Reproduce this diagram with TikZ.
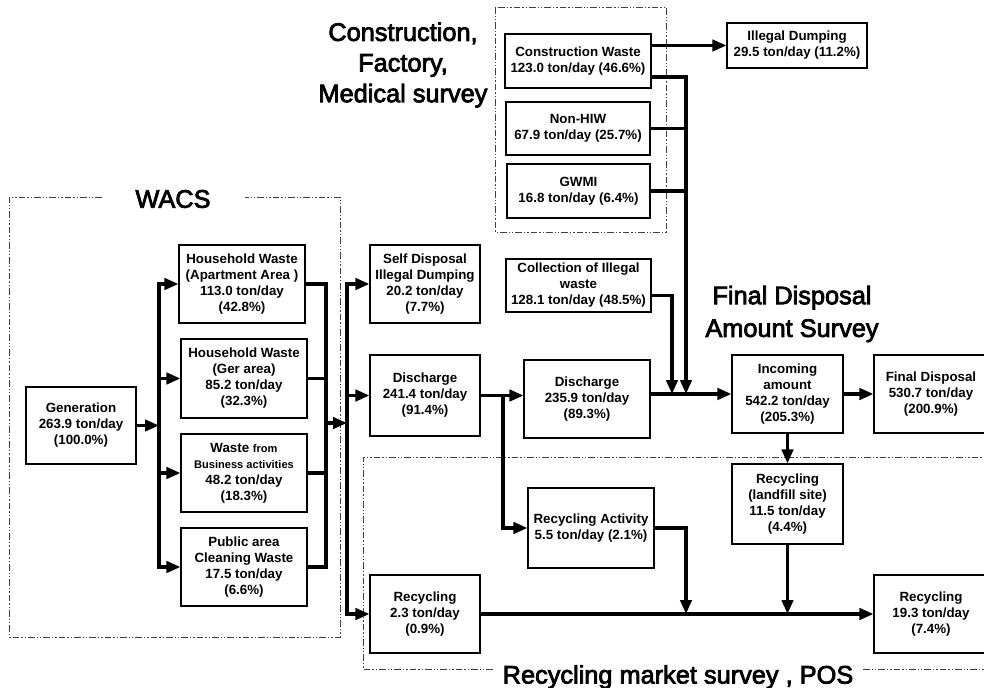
\documentclass[tikz,border=0pt]{standalone}
\usepackage{fontspec}
\setmainfont{Liberation Sans}
\newfontfamily\headfont[FakeBold=3]{Liberation Sans}
\usetikzlibrary{arrows.meta}
% box from its corners (x1,y1) (x2,y2), given in pixel units
\newcommand{\wbox}[6]{\node[box, minimum width={(#4-#2)*0.75pt}, minimum height={(#5-#3)*0.75pt}]
  (#1) at ({(#2+#4)/2},{(#3+#5)/2+1}) {#6};}
\begin{document}
\begin{tikzpicture}[x=0.75pt,y=-0.75pt,
  box/.style={draw, line width=0.8pt, inner sep=0pt, align=center,
    font=\bfseries\fontsize{10}{12}\selectfont},
  flow/.style={line width=2.5pt, line cap=rect},
  arr/.style={line width=2.5pt, -{Triangle[length=10.5pt,width=8.5pt]}},
  region/.style={line width=0.7pt, black!75,
    dash pattern=on 5pt off 1.5pt on 1pt off 1.5pt on 1pt off 1.5pt},
  title/.style={align=center, font=\headfont\fontsize{19}{23}\selectfont}]
\useasboundingbox (0,0) rectangle (984,688);

% survey regions
\draw[region] (102,197) -- (9,197) -- (9,637) -- (340,637) -- (340,197) -- (245,197);
\draw[region] (495,7) rectangle (666,232);
\draw[region] (493,669) -- (363,669) -- (363,457) -- (990,457);
\draw[region] (863,669) -- (990,669);

% region titles
\node[title] (tcfm) at (403,65) {Construction,\\Factory,\\Medical survey};
\node[title] (twacs) at (173,199) {WACS};
\node[title, font=\headfont\fontsize{19}{24.5}\selectfont] (tfin) at (792,314) {Final Disposal\\Amount Survey};
\node[title] (trec) at (678,677) {Recycling market survey , POS};

% WACS boxes
\wbox{gen}{26}{386}{136}{463}{Generation\\263.9 ton/day\\(100.0\%)}
\wbox{hwa}{179}{244}{305}{322}{Household Waste\\(Apartment Area )\\113.0 ton/day\\(42.8\%)}
\wbox{hwg}{181}{338}{307}{417}{Household Waste\\(Ger area)\\85.2 ton/day\\(32.3\%)}
\wbox{biz}{181}{433}{307}{511}{Waste {\fontsize{8.3}{12}\selectfont from}\\{\fontsize{8.3}{12}\selectfont Business activities}\\48.2 ton/day\\(18.3\%)}
\wbox{pub}{181}{527}{307}{605}{Public area\\Cleaning Waste\\17.5 ton/day\\(6.6\%)}

% discharge chain
\wbox{self}{370}{244}{480}{322}{Self Disposal\\Illegal Dumping\\20.2 ton/day\\(7.7\%)}
\wbox{dis1}{370}{354}{480}{435}{Discharge\\241.4 ton/day\\(91.4\%)}
\wbox{dis2}{524}{359}{650}{437}{Discharge\\235.9 ton/day\\(89.3\%)}
\wbox{coll}{506}{258}{651}{311}{Collection of Illegal\\waste\\128.1 ton/day (48.5\%)}

% construction, factory, medical
\wbox{cw}{505}{33}{651}{87}{Construction Waste\\123.0 ton/day (46.6\%)}
\wbox{nonhiw}{506}{101}{650}{154}{Non-HIW\\67.9 ton/day (25.7\%)}
\wbox{gwmi}{507}{163}{650}{217}{GWMI\\16.8 ton/day (6.4\%)}
\wbox{illeg}{727}{22}{867}{67}{Illegal Dumping\\29.5 ton/day (11.2\%)}

% final disposal and recycling
\wbox{inc}{732}{354}{843}{432}{Incoming\\amount\\542.2 ton/day\\(205.3\%)}
\wbox{fin}{874}{354}{988}{432}{Final Disposal\\530.7 ton/day\\(200.9\%)}
\wbox{rland}{732}{463}{843}{543}{Recycling\\(landfill site)\\11.5 ton/day\\(4.4\%)}
\wbox{ract}{528}{487}{654}{567}{Recycling Activity\\5.5 ton/day (2.1\%)}
\wbox{rec1}{370}{574}{480}{652}{Recycling\\2.3 ton/day\\(0.9\%)}
\wbox{rec2}{874}{574}{988}{652}{Recycling\\19.3 ton/day\\(7.4\%)}

% bus columns
\coordinate (b1) at (159,0);
\coordinate (b2) at (326,0);
\coordinate (b3) at (347,0);
\coordinate (j1) at (326,423);
\coordinate (j2) at (503,0);
\coordinate (m1) at (672,0);
\coordinate (m2) at (686,0);

% generation split
\draw[arr] (gen.east) -- (b1 |- gen.east);
\draw[flow] (b1 |- hwa.west) -- (b1 |- pub.west);
\foreach \n in {hwa,hwg,biz,pub} \draw[arr] (b1 |- \n.west) -- (\n.west);
\foreach \n in {hwa,hwg,biz,pub} \draw[flow] (\n.east) -- (b2 |- \n.east);
\draw[flow] (b2 |- hwa.east) -- (b2 |- pub.east);
\draw[arr] (j1) -- (b3 |- j1);
\draw[flow] (b3 |- self.west) -- (b3 |- rec1.west);
\foreach \n in {self,dis1,rec1} \draw[arr] (b3 |- \n.west) -- (\n.west);

% discharge flows
\draw[arr] (dis1.east) -- (dis1.east -| dis2.west);
\draw[arr] (j2 |- dis1.east) |- (ract.west);
\draw[arr] (dis2.east |- inc.west) -- (inc.west);
\draw[arr] ([yshift=-7.5pt]coll.east) -| (m1 |- inc.west);

% construction flows
\draw[arr] (cw.east |- illeg.west) -- (illeg.west);
\draw[arr] ([yshift=-12pt]cw.east) -| (m2 |- inc.west);
\draw[flow] (nonhiw.east) -- (m2 |- nonhiw.east);
\draw[flow] (gwmi.east) -- (m2 |- gwmi.east);

% disposal and recycling flows
\draw[arr] (inc.east) -- (fin.west);
\draw[arr] (inc.south) -- (rland.north);
\draw[arr] (rec1.east) -- (rec2.west);
\draw[arr] (rland.south) -- (rland.south |- rec1.east);
\draw[arr] (ract.east) -| (m2 |- rec1.east);
\end{tikzpicture}
\end{document}
